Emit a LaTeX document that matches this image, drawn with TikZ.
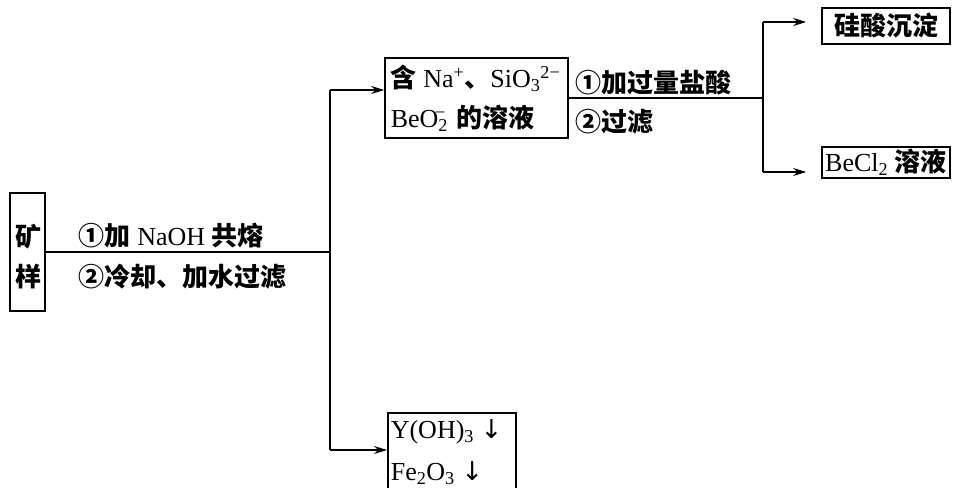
\documentclass[tikz,border=0pt]{standalone}
\usepackage{fontspec}
\setmainfont{Liberation Serif}
\newfontfamily\cjkf{Noto Sans CJK SC}
\newfontfamily\symf{DejaVu Sans}
\newcommand\cjk{\cjkf\bfseries}
\newcommand\dfs{\fontsize{26}{30}\selectfont}
\usetikzlibrary{arrows.meta}
\begin{document}
\begin{tikzpicture}[x=1pt,y=-1pt, line width=1.6pt,
 box/.style={draw, inner sep=0pt, font=\dfs},
 lbl/.style={inner sep=0pt, anchor=west, font=\dfs},
 arr/.style={-{Stealth[length=13pt,width=8pt]}}]
\useasboundingbox (0,0) rectangle (955,487);
\clip (0,0) rectangle (955,487);
\fill[white] (0,0) rectangle (955,487);

% ore
\node[box, minimum width=35pt, minimum height=118pt] (ore) at (27.5,252) {};
\node[inner sep=0pt, font=\dfs] (k) at (28,237) {{\cjk 矿}};
\node[inner sep=0pt, font=\dfs] (yg) at (28,277) {{\cjk 样}};
\node[lbl] (c1) at (78,235) {{\cjk ①加} NaOH {\cjk 共熔}};
\node[lbl] (c2) at (78,277) {{\cjk ②冷却、加水过滤}};

% solution box
\node[box, minimum width=183pt, minimum height=80pt] (sol) at (476.5,98) {};
\node[lbl] (s1) at (390,78) {{\cjk 含} Na\textsuperscript{+}{\cjk 、}SiO\textsubscript{3}\textsuperscript{2−}};
\node[lbl] (s2) at (390,118) {BeO\textsubscript{2}\hspace{-0.5em}\textsuperscript{−}\, {\cjk 的溶液}};
\node[lbl] (a1) at (575,83) {{\cjk ①加过量盐酸}};
\node[lbl] (a2) at (575,122) {{\cjk ②过滤}};

% products
\node[box, minimum width=128pt, minimum height=36pt] (hs) at (886,26) {{\cjk 硅酸沉淀}};
\node[box, minimum width=128pt, minimum height=31pt] (be) at (886,162.5) {BeCl\textsubscript{2} {\cjk 溶液}};
\node[box, minimum width=128pt, minimum height=100pt, anchor=north west] (yb) at (387,412) {};
\node[lbl] (y1) at (390,432) {Y(OH)\textsubscript{3} {\symf ↓}};
\node[lbl] (y2) at (390,473) {Fe\textsubscript{2}O\textsubscript{3} {\symf ↓}};

% connectors
\coordinate (j1) at (330,252);
\coordinate (j1t) at (330,90);
\coordinate (j1b) at (330,450);
\draw (ore.east) -- (j1);
\draw (j1t) -- (j1b);
\draw[arr] (j1t) -- (sol.west |- j1t);
\draw[arr] (j1b) -- (yb.west |- j1b);
\coordinate (j2) at (763,98);
\coordinate (j2t) at (763,22);
\coordinate (j2b) at (763,172);
\draw (sol.east) -- (j2);
\draw (j2t) -- (j2b);
\draw[arr, shorten >=15pt] (j2t) -- (hs.west |- j2t);
\draw[arr, shorten >=15pt] (j2b) -- (be.west |- j2b);
\end{tikzpicture}
\end{document}
